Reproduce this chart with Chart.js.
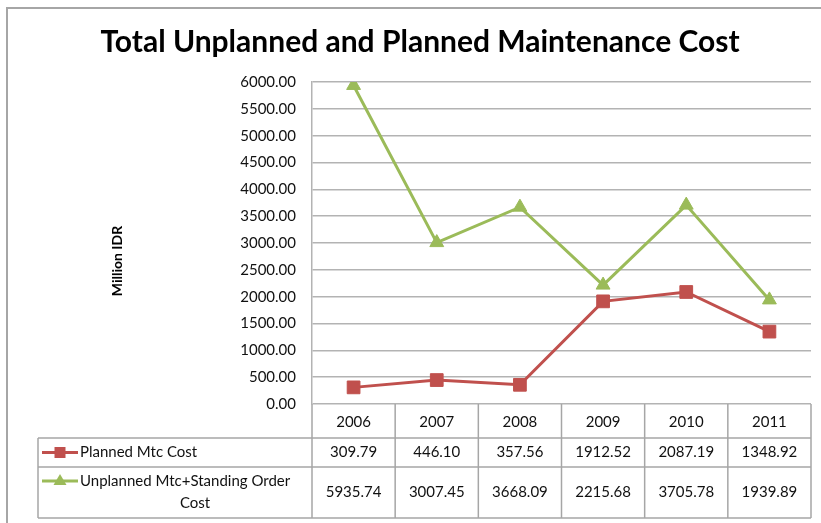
<!DOCTYPE html>
<html>
<head>
<meta charset="utf-8">
<script src="https://cdn.jsdelivr.net/npm/chart.js@4/dist/chart.umd.min.js"></script>
<style>
html,body{margin:0;padding:0;background:#fff;}
#wrap{width:821px;height:523px;position:relative;}
</style>
</head>
<body>
<div id="wrap"><canvas id="c" width="821" height="523"></canvas></div>
<script>
const titleText = 'Total Unplanned and Planned Maintenance Cost';
const yTitle = 'Million IDR';
const categories = ['2006', '2007', '2008', '2009', '2010', '2011'];
const plannedName = 'Planned Mtc Cost';
const unplannedName = ['Unplanned Mtc+Standing Order', 'Cost'];
const plannedCost = [309.79, 446.10, 357.56, 1912.52, 2087.19, 1348.92];
const unplannedCost = [5935.74, 3007.45, 3668.09, 2215.68, 3705.78, 1939.89];
const yMin = 0, yMax = 6000, yStep = 500;

const RED = '#C0504D';
const GREEN = '#9BBB59';
const GRID = '#b3b3b3';
const FONT = 'Lato, Carlito, "Open Sans", sans-serif';

function fmt(v){ return v.toFixed(2); }

const framePlugin = {
  id: 'frame',
  beforeDraw(chart){
    const ctx = chart.ctx;
    ctx.save();
    ctx.fillStyle = '#fff';
    ctx.fillRect(0,0,chart.width,chart.height);
    ctx.strokeStyle = '#a6a6a6';
    ctx.lineWidth = 2;
    ctx.beginPath();
    ctx.moveTo(7, chart.height);
    ctx.lineTo(7, 8);
    ctx.lineTo(chart.width, 8);
    ctx.stroke();
    ctx.restore();
  }
};

function drawMarker(ctx, style, x, y, color){
  ctx.fillStyle = color;
  ctx.beginPath();
  if (style === 'rect'){
    ctx.rect(x-5.5, y-5.5, 11, 11);
  } else {
    ctx.moveTo(x, y-7);
    ctx.lineTo(x+6.5, y+4);
    ctx.lineTo(x-6.5, y+4);
    ctx.closePath();
  }
  ctx.fill();
}

const tablePlugin = {
  id: 'dataTable',
  afterDraw(chart){
    const ctx = chart.ctx;
    const area = chart.chartArea;
    const xs = chart.scales.x;
    const n = categories.length;
    const colW = (area.right - area.left) / n;
    const top = area.bottom;
    const r1 = top + 34, r2 = r1 + 29, r3 = r2 + 51;
    const legendLeft = 38;
    ctx.save();
    ctx.strokeStyle = '#a6a6a6';
    ctx.lineWidth = 1.5;
    ctx.beginPath();
    [r1, r2, r3].forEach(y => { ctx.moveTo(legendLeft, y); ctx.lineTo(area.right, y); });
    ctx.moveTo(legendLeft, r1); ctx.lineTo(legendLeft, r3);
    ctx.moveTo(area.left, top); ctx.lineTo(area.left, r3);
    for (let i = 0; i < n; i++){
      const bx = xs.getPixelForValue(i) + colW/2;
      ctx.moveTo(bx, top); ctx.lineTo(bx, r3);
    }
    ctx.stroke();

    ctx.fillStyle = '#111';
    ctx.font = '15px ' + FONT;
    ctx.textAlign = 'center';
    ctx.textBaseline = 'middle';
    for (let i = 0; i < n; i++){
      const cx = xs.getPixelForValue(i);
      ctx.fillText(categories[i], cx, (top + r1)/2 + 1);
      ctx.fillText(fmt(plannedCost[i]), cx, (r1 + r2)/2);
      ctx.fillText(fmt(unplannedCost[i]), cx, (r2 + r3)/2);
    }
    // legend keys
    const y1 = (r1 + r2)/2, y2 = r2 + 14;
    ctx.lineWidth = 3;
    ctx.strokeStyle = RED;
    ctx.beginPath(); ctx.moveTo(42, y1); ctx.lineTo(78, y1); ctx.stroke();
    drawMarker(ctx, 'rect', 60, y1, RED);
    ctx.strokeStyle = GREEN;
    ctx.beginPath(); ctx.moveTo(42, y2); ctx.lineTo(78, y2); ctx.stroke();
    drawMarker(ctx, 'triangle', 60, y2, GREEN);
    ctx.fillStyle = '#111';
    ctx.textAlign = 'left';
    ctx.fillText(plannedName, 80, y1);
    ctx.fillText(unplannedName[0], 80, y2);
    ctx.textAlign = 'center';
    ctx.fillText(unplannedName[1], 195, y2 + 22);

    // y axis title
    ctx.save();
    ctx.translate(117, 261);
    ctx.rotate(-Math.PI/2);
    ctx.font = 'bold 14px ' + FONT;
    ctx.fillStyle = '#000';
    ctx.textAlign = 'center';
    ctx.textBaseline = 'middle';
    ctx.fillText(yTitle, 0, 0);
    ctx.restore();
    ctx.restore();
  }
};

new Chart(document.getElementById('c'), {
  type: 'line',
  data: {
    labels: categories,
    datasets: [
      {
        label: plannedName,
        data: plannedCost,
        borderColor: RED,
        backgroundColor: RED,
        borderWidth: 3,
        pointStyle: 'rect',
        pointRadius: 9,
        pointHoverRadius: 9,
        pointBorderWidth: 1,
        tension: 0
      },
      {
        label: unplannedName.join(' '),
        data: unplannedCost,
        borderColor: GREEN,
        backgroundColor: GREEN,
        borderWidth: 3,
        pointStyle: 'triangle',
        pointRadius: 8,
        pointHoverRadius: 8,
        pointBorderWidth: 1,
        tension: 0
      }
    ]
  },
  options: {
    responsive: false,
    animation: false,
    devicePixelRatio: 1,
    layout: { padding: { left: 26, right: 7, top: 0, bottom: 119 } },
    plugins: {
      legend: { display: false },
      tooltip: { enabled: false },
      title: {
        display: true,
        text: titleText,
        color: '#000',
        font: { family: FONT, size: 30, weight: 'bold' },
        padding: { top: 24, bottom: 22 }
      }
    },
    scales: {
      x: {
        type: 'category',
        display: false,
        offset: true
      },
      y: {
        min: yMin,
        max: yMax,
        afterFit(scale){ scale.width = 286; },
        ticks: {
          stepSize: yStep,
          padding: 16,
          color: '#111',
          font: { family: FONT, size: 15 },
          callback: v => fmt(v)
        },
        grid: { color: GRID, lineWidth: 1.5, drawTicks: false },
        border: { display: true, color: GRID, width: 1.5 }
      }
    }
  },
  plugins: [framePlugin, tablePlugin]
});
</script>
</body>
</html>
